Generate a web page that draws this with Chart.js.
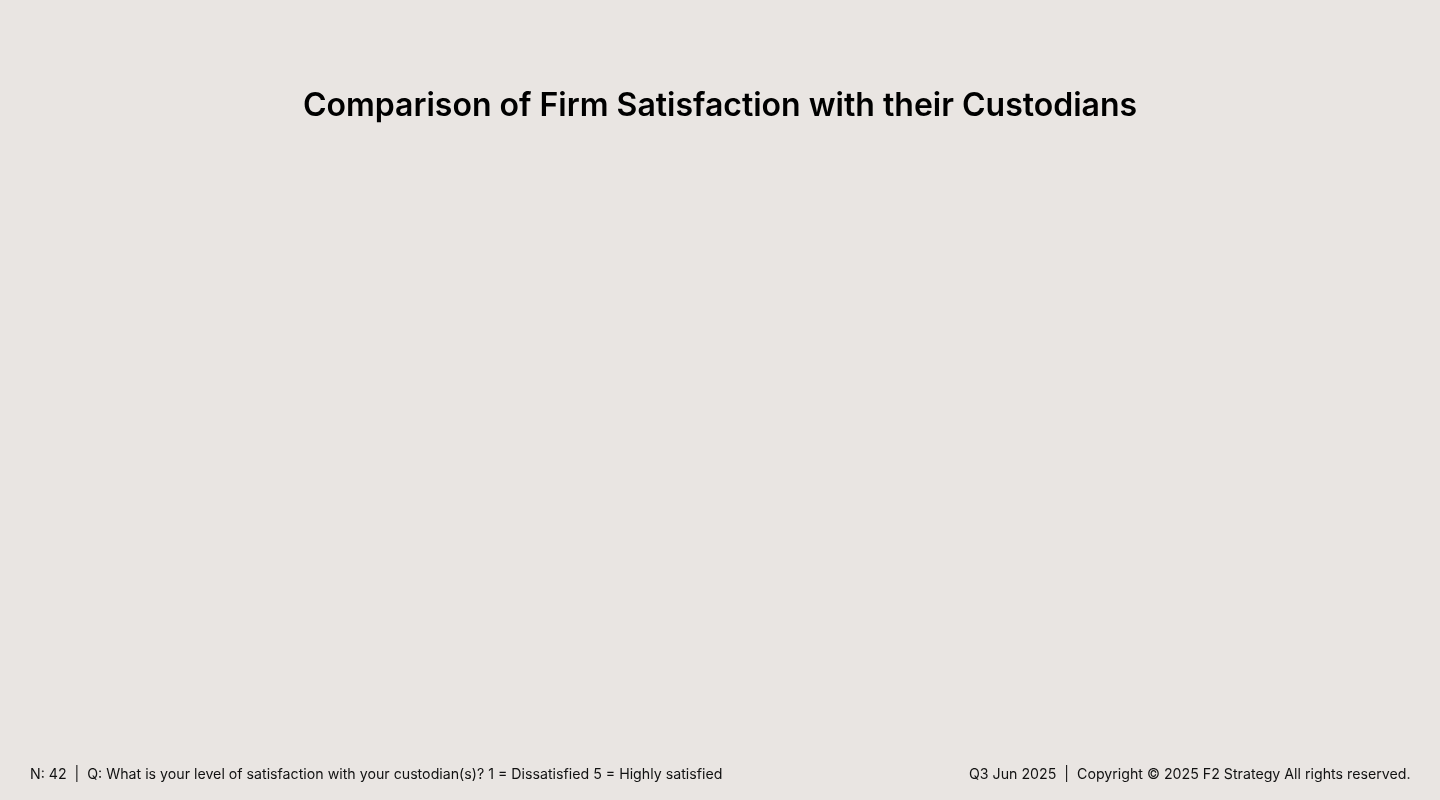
<!DOCTYPE html>
<html>
<head>
<meta charset="utf-8">
<title>Comparison of Firm Satisfaction with their Custodians</title>
<script src="https://cdn.jsdelivr.net/npm/chart.js@4.4.1/dist/chart.umd.min.js"></script>
<style>
  html, body {
    margin: 0;
    padding: 0;
    width: 1440px;
    height: 800px;
    background: #e9e5e2;
    overflow: hidden;
    font-family: "Inter", "Open Sans", sans-serif;
  }
  #wrap {
    position: absolute;
    left: 0;
    top: 0;
    width: 1440px;
    height: 740px;
  }
  .footer {
    position: absolute;
    top: 765px;
    font-size: 14.2px;
    color: #111;
    white-space: pre;
    will-change: transform;
    -webkit-font-smoothing: antialiased;
  }
  #footLeft { left: 30px; }
  #footRight { right: 30px; }
</style>
</head>
<body>
<div id="wrap"><canvas id="grafico"></canvas></div>
<div class="footer" id="footLeft"></div>
<div class="footer" id="footRight"></div>

<script>
// Datos: el gráfico original no muestra ninguna barra, así que las series están vacías
const titulo = 'Comparison of Firm Satisfaction with their Custodians';
const custodios = [];
const puntuaciones = [];
const nota = 'N: 42  |  Q: What is your level of satisfaction with your custodian(s)? 1 = Dissatisfied 5 = Highly satisfied';
const fuente = 'Q3 Jun 2025  |  Copyright \u00A9 2025 F2 Strategy All rights reserved.';

document.getElementById('footLeft').textContent = nota;
document.getElementById('footRight').textContent = fuente;

const ctx = document.getElementById('grafico').getContext('2d');
new Chart(ctx, {
    type: 'bar',
    data: {
        labels: custodios,
        datasets: [{
            label: 'Satisfaction',
            data: puntuaciones,
            backgroundColor: '#1f3a5f'
        }]
    },
    options: {
        responsive: true,
        maintainAspectRatio: false,
        animation: false,
        layout: { padding: 0 },
        scales: {
            x: { display: false },
            y: { display: false, beginAtZero: true }
        },
        plugins: {
            legend: { display: false },
            tooltip: { enabled: false },
            title: {
                display: true,
                text: titulo,
                color: '#000',
                font: { family: 'Inter', size: 32, weight: '600' },
                padding: { top: 87, bottom: 20 }
            }
        }
    }
});
</script>
</body>
</html>
